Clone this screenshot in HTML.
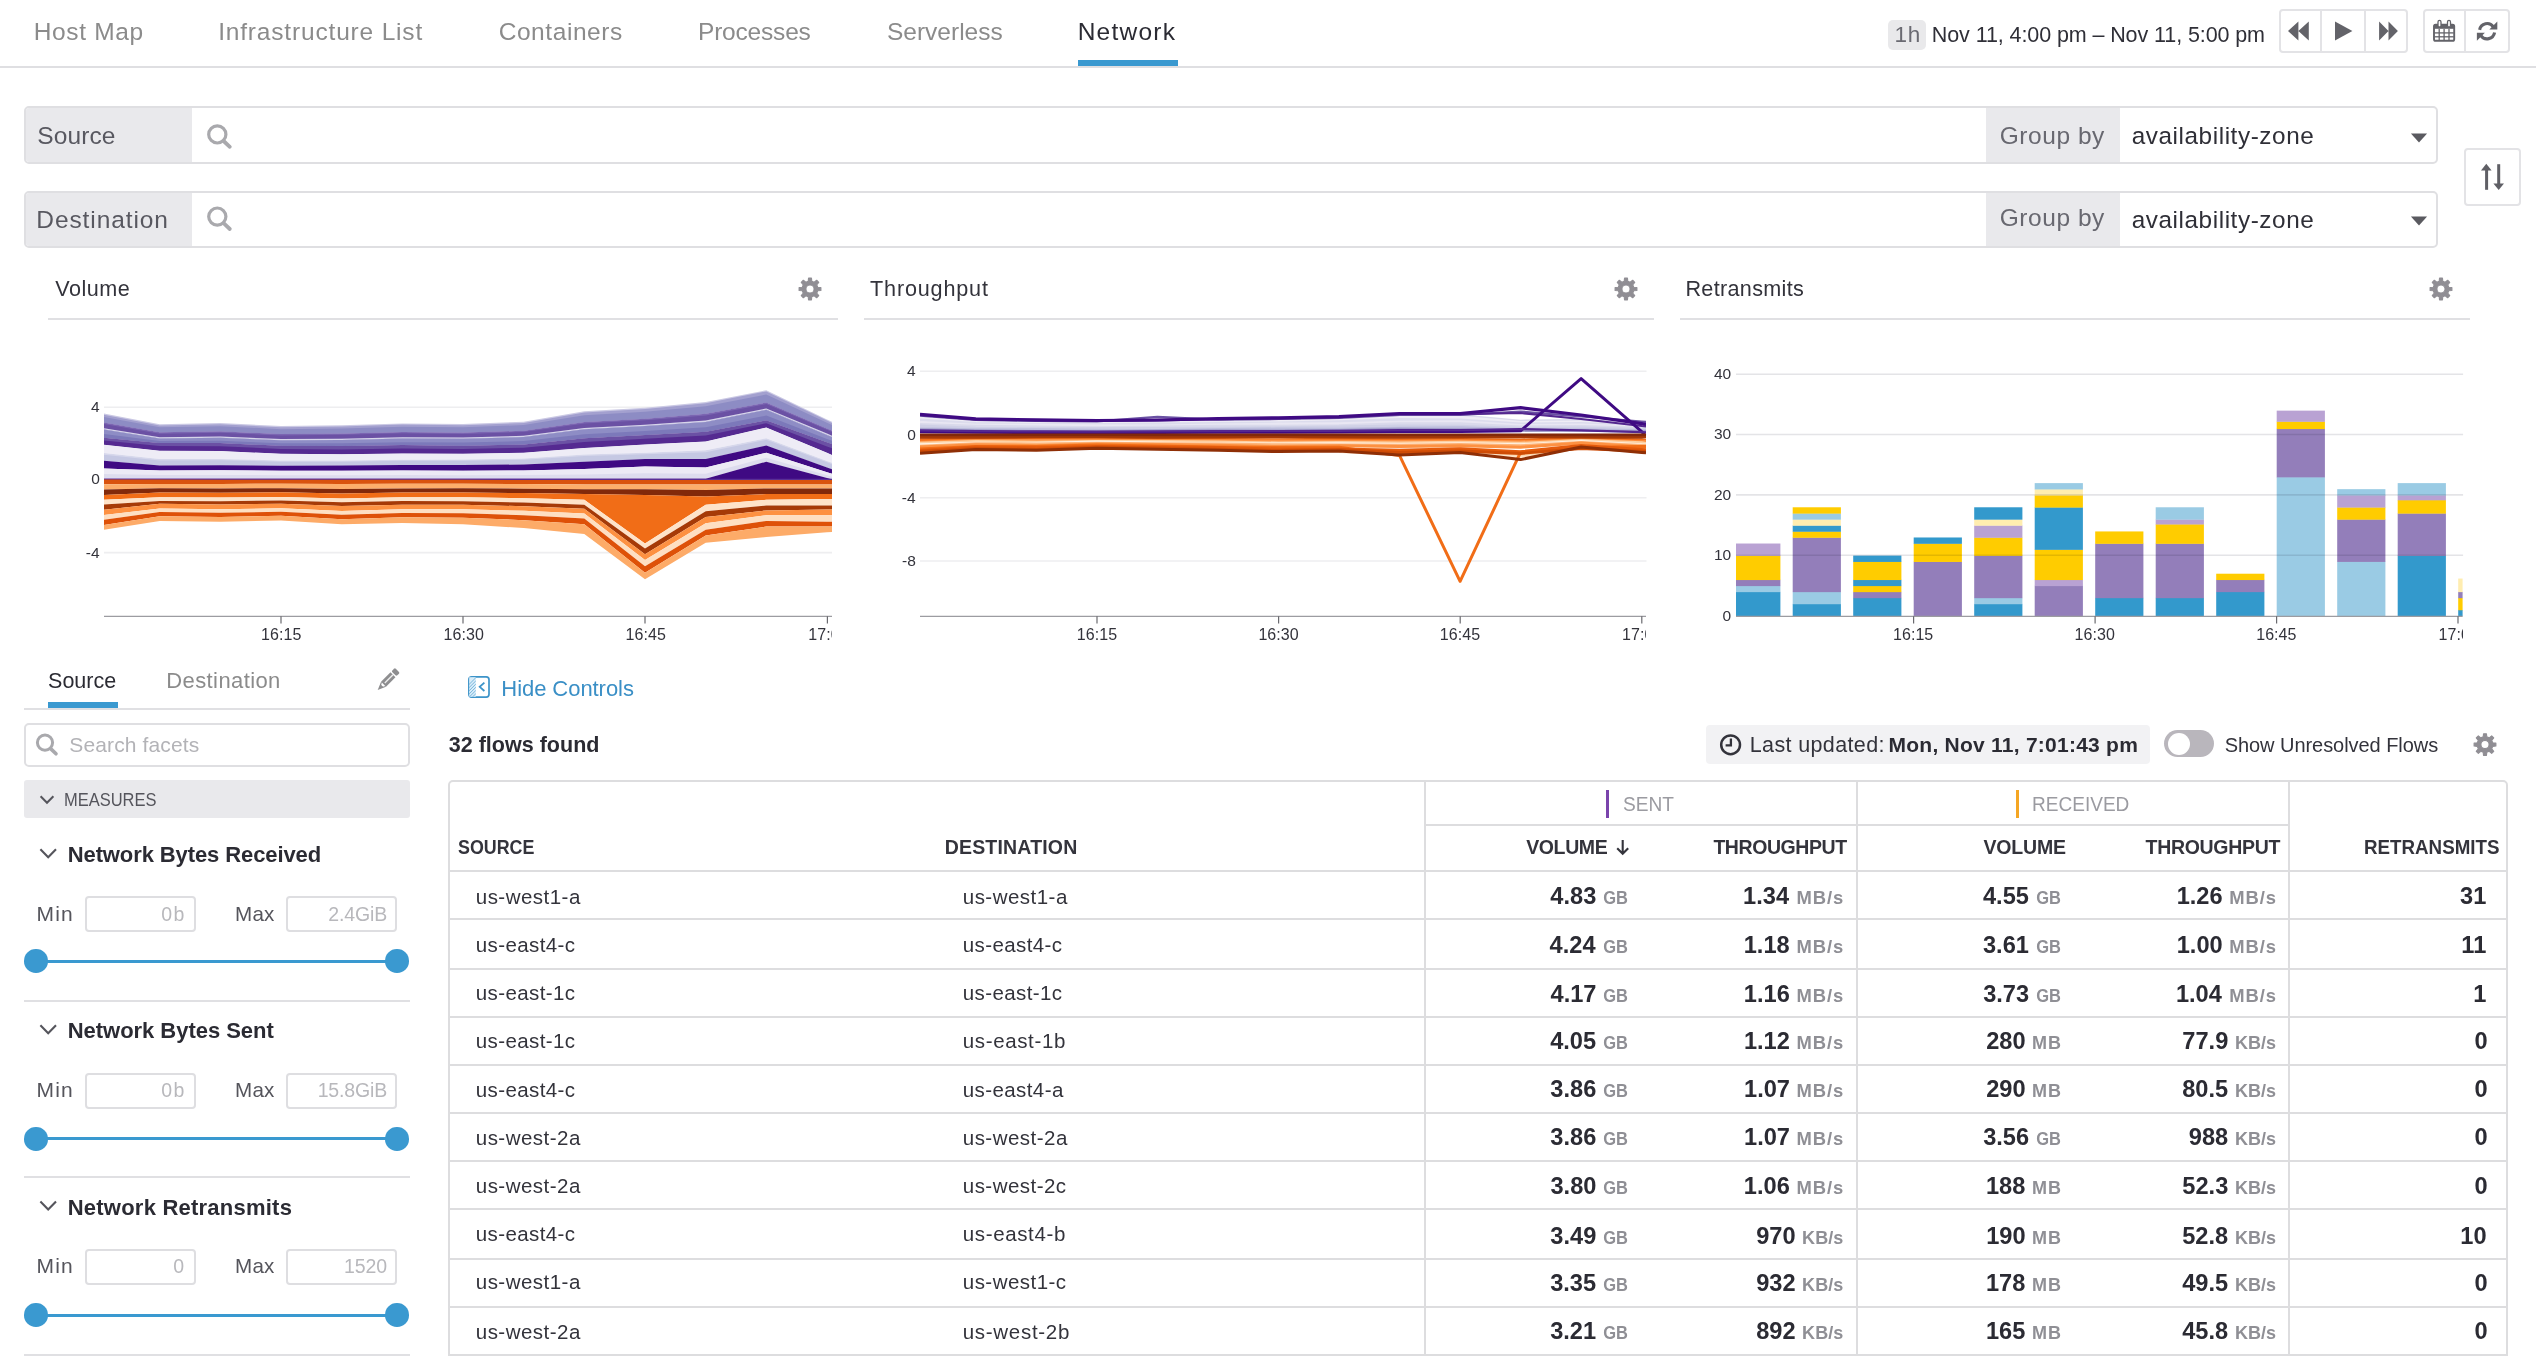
<!DOCTYPE html>
<html lang="en"><head><meta charset="utf-8"><title>Network | Datadog</title><style>
html,body{margin:0;padding:0;background:#fff}
body{width:2536px;height:1356px;position:relative;overflow:hidden;font-family:"Liberation Sans",sans-serif}
#pg{position:absolute;left:0;top:0;width:2536px;height:1356px;overflow:hidden;will-change:transform}
#pg div,#pg svg,#pg span{position:absolute}
#pg svg{overflow:visible}
.t{white-space:pre;line-height:1}
svg text{font-family:"Liberation Sans",sans-serif}
</style></head><body><div id="pg">
<span id="t1" class="t" style="top:20px;font-size:24.5px;color:#8b8b8b;letter-spacing:0.671px;left:33.69px;">Host Map</span>
<span id="t2" class="t" style="top:20px;font-size:24.5px;color:#8b8b8b;letter-spacing:0.826px;left:218.14px;">Infrastructure List</span>
<span id="t3" class="t" style="top:20px;font-size:24.5px;color:#8b8b8b;letter-spacing:0.572px;left:498.66px;">Containers</span>
<span id="t4" class="t" style="top:20px;font-size:24.5px;color:#8b8b8b;letter-spacing:-0.187px;left:697.99px;">Processes</span>
<span id="t5" class="t" style="top:20px;font-size:24.5px;color:#8b8b8b;letter-spacing:0.018px;left:886.89px;">Serverless</span>
<span id="t6" class="t" style="top:20px;font-size:24.5px;color:#2b2b33;letter-spacing:1.236px;left:1077.69px;">Network</span>
<div style="left:0px;top:66px;width:2536px;height:2px;background:#dfdfe2"></div>
<div style="left:1078px;top:60px;width:100px;height:6px;background:#3a99d0"></div>
<div style="left:1888px;top:20px;width:38px;height:30px;background:#e9e9eb;border-radius:5px"></div>
<span id="t7" class="t" style="top:24px;font-size:22.5px;color:#6a6a72;letter-spacing:0.544px;left:1894.59px;">1h</span>
<span id="t8" class="t" style="top:25px;font-size:21.5px;color:#2f2f37;letter-spacing:-0.095px;left:1931.84px;">Nov 11, 4:00 pm – Nov 11, 5:00 pm</span>
<div style="left:2279px;top:8.5px;width:128.5px;height:44.5px;border:2px solid #e3e3e6;border-radius:4px;box-sizing:border-box;background:#fff"></div>
<div style="left:2320px;top:10px;width:2px;height:41.5px;background:#e3e3e6"></div>
<div style="left:2364px;top:10px;width:2px;height:41.5px;background:#e3e3e6"></div>
<div style="left:2423px;top:8.5px;width:86.5px;height:44.5px;border:2px solid #e3e3e6;border-radius:4px;box-sizing:border-box;background:#fff"></div>
<div style="left:2464px;top:10px;width:2px;height:41.5px;background:#e3e3e6"></div>
<svg style="left:2270px;top:0px" width="266" height="66" viewBox="2270 0 266 66" ><path d="M2288 31 L2298.4 21.5 V40.5Z M2298.4 31 L2308.8 21.5 V40.5Z" fill="#636369"/><path d="M2335 21.5 L2352.4 31 L2335 40.5Z" fill="#636369"/><path d="M2379.1 21.5 L2388.5 31 L2379.1 40.5Z M2388.5 21.5 L2397.9 31 L2388.5 40.5Z" fill="#636369"/><rect x="2434" y="24.6" width="20.2" height="16.2" rx="1.6" fill="none" stroke="#636369" stroke-width="1.9"/><rect x="2434" y="24.6" width="20.2" height="4.2" fill="#636369"/><path d="M2439.2 29 V40.6" stroke="#636369" stroke-width="1.3"/><path d="M2444.1 29 V40.6" stroke="#636369" stroke-width="1.3"/><path d="M2449.0 29 V40.6" stroke="#636369" stroke-width="1.3"/><path d="M2434.4 32.9 H2453.8" stroke="#636369" stroke-width="1.3"/><path d="M2434.4 36.8 H2453.8" stroke="#636369" stroke-width="1.3"/><rect x="2438.0" y="20.4" width="3" height="6.6" rx="1.5" fill="#fff" stroke="#636369" stroke-width="1.3"/><rect x="2447.5" y="20.4" width="3" height="6.6" rx="1.5" fill="#fff" stroke="#636369" stroke-width="1.3"/><path d="M2479.62 29.88 A7.6 7.6 0 0 1 2493.33 26.84" fill="none" stroke="#636369" stroke-width="3.1"/><path d="M2494.58 32.52 A7.6 7.6 0 0 1 2480.87 35.56" fill="none" stroke="#636369" stroke-width="3.1"/><path d="M2497.3 21.6 V29.6 H2489.3Z" fill="#636369"/><path d="M2476.9 40.8 V32.8 H2484.9Z" fill="#636369"/></svg>
<div style="left:24px;top:106px;width:2413.5px;height:57.5px;border:2px solid #dfdfe2;border-radius:5px;box-sizing:border-box;background:#fff"></div>
<div style="left:26px;top:108px;width:166px;height:53.5px;background:#e9e9ec;border-radius:3px 0 0 3px"></div>
<div style="left:1986px;top:108px;width:134px;height:53.5px;background:#e9e9ec"></div>
<span id="t9" class="t" style="top:124px;font-size:24.5px;color:#585860;letter-spacing:0.132px;left:37.19px;">Source</span>
<span id="t10" class="t" style="top:124px;font-size:24.5px;color:#686870;letter-spacing:0.543px;left:1999.77px;">Group by</span>
<span id="t11" class="t" style="top:124px;font-size:24.3px;color:#2f2f37;letter-spacing:0.577px;left:2131.67px;">availability-zone</span>
<svg style="left:200px;top:106px" width="50" height="58" viewBox="200 106 50 58" ><circle cx="217.3" cy="134.4" r="8.6" fill="none" stroke="#a9a9ad" stroke-width="3.2"/><path d="M223.6 141.0 L229.8 146.8" stroke="#a9a9ad" stroke-width="3.8" stroke-linecap="round"/></svg>
<svg style="left:2405px;top:106px" width="30" height="58" viewBox="2405 106 30 58" ><path d="M2410.9 133.4 h16.2 l-8.1 9.2z" fill="#5a5a60"/></svg>
<div style="left:24px;top:190.5px;width:2413.5px;height:57.5px;border:2px solid #dfdfe2;border-radius:5px;box-sizing:border-box;background:#fff"></div>
<div style="left:26px;top:192.5px;width:166px;height:53.5px;background:#e9e9ec;border-radius:3px 0 0 3px"></div>
<div style="left:1986px;top:192.5px;width:134px;height:53.5px;background:#e9e9ec"></div>
<span id="t12" class="t" style="top:208px;font-size:24.5px;color:#585860;letter-spacing:0.912px;left:36.29px;">Destination</span>
<span id="t13" class="t" style="top:206px;font-size:24.5px;color:#686870;letter-spacing:0.543px;left:1999.77px;">Group by</span>
<span id="t14" class="t" style="top:208px;font-size:24.3px;color:#2f2f37;letter-spacing:0.577px;left:2131.67px;">availability-zone</span>
<svg style="left:200px;top:190px" width="50" height="58" viewBox="200 190 50 58" ><circle cx="217.3" cy="216.6" r="8.6" fill="none" stroke="#a9a9ad" stroke-width="3.2"/><path d="M223.6 223.2 L229.8 229.0" stroke="#a9a9ad" stroke-width="3.8" stroke-linecap="round"/></svg>
<svg style="left:2405px;top:190px" width="30" height="58" viewBox="2405 190 30 58" ><path d="M2410.9 216.4 h16.2 l-8.1 9.2z" fill="#5a5a60"/></svg>
<div style="left:2464px;top:148px;width:57px;height:57.5px;border:2px solid #e3e3e6;border-radius:4px;box-sizing:border-box;background:#fff"></div>
<svg style="left:2464px;top:148px" width="58" height="58" viewBox="2464 148 58 58" ><g fill="#5f5f65"><rect x="2485.1" y="168.5" width="3" height="21.3"/><path d="M2481.0 170.4 H2491.6 L2486.3 163.8Z"/><rect x="2497.2" y="164.2" width="3" height="21"/><path d="M2493.4 183.5 H2504.0 L2498.7 190.1Z"/></g></svg>
<span id="t15" class="t" style="top:278px;font-size:21.6px;color:#33333b;letter-spacing:0.505px;left:55.21px;">Volume</span>
<div style="left:48px;top:318px;width:790px;height:2px;background:#e0e0e3"></div>
<svg style="left:795px;top:274px" width="30" height="30" viewBox="795 274 30 30" ><path d="M808.21 281.28 L808.54 278.10 L811.46 278.10 L811.79 281.28 L814.19 282.28 L816.67 280.26 L818.74 282.33 L816.72 284.81 L817.72 287.21 L820.90 287.54 L820.90 290.46 L817.72 290.79 L816.72 293.19 L818.74 295.67 L816.67 297.74 L814.19 295.72 L811.79 296.72 L811.46 299.90 L808.54 299.90 L808.21 296.72 L805.81 295.72 L803.33 297.74 L801.26 295.67 L803.28 293.19 L802.28 290.79 L799.10 290.46 L799.10 287.54 L802.28 287.21 L803.28 284.81 L801.26 282.33 L803.33 280.26 L805.81 282.28Z M805.93 289.00 a4.07 4.07 0 1 0 8.14 0 a4.07 4.07 0 1 0 -8.14 0Z" fill="#908e94" fill-rule="evenodd" stroke="#908e94" stroke-width="1.1" stroke-linejoin="round"/></svg>
<span id="t16" class="t" style="top:278px;font-size:21.6px;color:#33333b;letter-spacing:0.821px;left:870.11px;">Throughput</span>
<div style="left:864px;top:318px;width:790px;height:2px;background:#e0e0e3"></div>
<svg style="left:1611px;top:274px" width="30" height="30" viewBox="1611 274 30 30" ><path d="M1624.21 281.28 L1624.54 278.10 L1627.46 278.10 L1627.79 281.28 L1630.19 282.28 L1632.67 280.26 L1634.74 282.33 L1632.72 284.81 L1633.72 287.21 L1636.90 287.54 L1636.90 290.46 L1633.72 290.79 L1632.72 293.19 L1634.74 295.67 L1632.67 297.74 L1630.19 295.72 L1627.79 296.72 L1627.46 299.90 L1624.54 299.90 L1624.21 296.72 L1621.81 295.72 L1619.33 297.74 L1617.26 295.67 L1619.28 293.19 L1618.28 290.79 L1615.10 290.46 L1615.10 287.54 L1618.28 287.21 L1619.28 284.81 L1617.26 282.33 L1619.33 280.26 L1621.81 282.28Z M1621.93 289.00 a4.07 4.07 0 1 0 8.14 0 a4.07 4.07 0 1 0 -8.14 0Z" fill="#908e94" fill-rule="evenodd" stroke="#908e94" stroke-width="1.1" stroke-linejoin="round"/></svg>
<span id="t17" class="t" style="top:278px;font-size:21.6px;color:#33333b;letter-spacing:0.325px;left:1685.43px;">Retransmits</span>
<div style="left:1680px;top:318px;width:790px;height:2px;background:#e0e0e3"></div>
<svg style="left:2426px;top:274px" width="30" height="30" viewBox="2426 274 30 30" ><path d="M2439.21 281.28 L2439.54 278.10 L2442.46 278.10 L2442.79 281.28 L2445.19 282.28 L2447.67 280.26 L2449.74 282.33 L2447.72 284.81 L2448.72 287.21 L2451.90 287.54 L2451.90 290.46 L2448.72 290.79 L2447.72 293.19 L2449.74 295.67 L2447.67 297.74 L2445.19 295.72 L2442.79 296.72 L2442.46 299.90 L2439.54 299.90 L2439.21 296.72 L2436.81 295.72 L2434.33 297.74 L2432.26 295.67 L2434.28 293.19 L2433.28 290.79 L2430.10 290.46 L2430.10 287.54 L2433.28 287.21 L2434.28 284.81 L2432.26 282.33 L2434.33 280.26 L2436.81 282.28Z M2436.93 289.00 a4.07 4.07 0 1 0 8.14 0 a4.07 4.07 0 1 0 -8.14 0Z" fill="#908e94" fill-rule="evenodd" stroke="#908e94" stroke-width="1.1" stroke-linejoin="round"/></svg>
<svg style="left:48px;top:340px" width="800" height="310" viewBox="48 340 800 310" ><defs><clipPath id="cv"><rect x="104" y="340" width="728" height="290"/></clipPath></defs><path d="M104 407.3 H832" stroke="#eeeef0" stroke-width="1.6"/><path d="M104 479.6 H832" stroke="#eeeef0" stroke-width="1.6"/><path d="M104 552.6 H832" stroke="#eeeef0" stroke-width="1.6"/><g clip-path="url(#cv)"><path d="M104.0 413.50L159.7 424.20L220.3 423.00L281.0 426.10L341.7 425.30L402.3 423.40L463.0 424.00L523.7 421.70L584.3 411.30L645.0 407.70L705.7 402.10L766.3 390.20L827.0 419.40L832.0 421.81L832.0 430.53L827.0 428.40L766.3 402.50L705.7 413.80L645.0 418.70L584.3 421.90L523.7 430.69L463.0 432.54L402.3 431.88L341.7 433.40L281.0 434.05L220.3 431.30L159.7 432.30L104.0 422.60Z" fill="#cbc9e4"/><path d="M104.0 414.70L159.7 425.40L220.3 424.20L281.0 427.30L341.7 426.50L402.3 424.60L463.0 425.20L523.7 422.90L584.3 412.50L645.0 408.90L705.7 403.30L766.3 391.40L827.0 420.60L832.0 423.01L832.0 430.53L827.0 428.40L766.3 402.50L705.7 413.80L645.0 418.70L584.3 421.90L523.7 430.69L463.0 432.54L402.3 431.88L341.7 433.40L281.0 434.05L220.3 431.30L159.7 432.30L104.0 422.60Z" fill="#a3a0cf"/><path d="M104.0 416.91L159.7 427.33L220.3 426.19L281.0 429.19L341.7 428.43L402.3 426.64L463.0 427.25L523.7 425.08L584.3 415.13L645.0 411.64L705.7 406.24L766.3 394.51L827.0 422.78L832.0 425.11L832.0 430.53L827.0 428.40L766.3 402.50L705.7 413.80L645.0 418.70L584.3 421.90L523.7 430.69L463.0 432.54L402.3 431.88L341.7 433.40L281.0 434.05L220.3 431.30L159.7 432.30L104.0 422.60Z" fill="#8d8cc4"/><path d="M104.0 422.60L159.7 432.30L220.3 431.30L281.0 434.05L341.7 433.40L402.3 431.88L463.0 432.54L523.7 430.69L584.3 421.90L645.0 418.70L705.7 413.80L766.3 402.50L827.0 428.40L832.0 430.53L832.0 436.97L827.0 434.90L766.3 409.80L705.7 421.90L645.0 426.00L584.3 429.20L523.7 437.07L463.0 438.87L402.3 438.51L341.7 440.00L281.0 440.37L220.3 437.83L159.7 438.50L104.0 429.50Z" fill="#7b66b2"/><path d="M104.0 424.12L159.7 433.66L220.3 432.74L281.0 435.44L341.7 434.85L402.3 433.34L463.0 433.93L523.7 432.09L584.3 423.51L645.0 420.31L705.7 415.58L766.3 404.11L827.0 429.83L832.0 431.95L832.0 435.67L827.0 433.60L766.3 408.50L705.7 420.60L645.0 424.70L584.3 427.90L523.7 435.77L463.0 437.57L402.3 437.21L341.7 438.70L281.0 439.07L220.3 436.53L159.7 437.20L104.0 428.20Z" fill="#6b51a4"/><path d="M104.0 428.20L159.7 437.20L220.3 436.53L281.0 439.07L341.7 438.70L402.3 437.21L463.0 437.57L523.7 435.77L584.3 427.90L645.0 424.70L705.7 420.60L766.3 408.50L827.0 433.60L832.0 435.67L832.0 436.97L827.0 434.90L766.3 409.80L705.7 421.90L645.0 426.00L584.3 429.20L523.7 437.07L463.0 438.87L402.3 438.51L341.7 440.00L281.0 440.37L220.3 437.83L159.7 438.50L104.0 429.50Z" fill="#d6d5ea"/><path d="M104.0 429.50L159.7 438.50L220.3 437.83L281.0 440.37L341.7 440.00L402.3 438.51L463.0 438.87L523.7 437.07L584.3 429.20L645.0 426.00L705.7 421.90L766.3 409.80L827.0 434.90L832.0 436.97L832.0 444.00L827.0 442.20L766.3 420.30L705.7 431.70L645.0 434.90L584.3 438.20L523.7 444.39L463.0 445.63L402.3 445.09L341.7 446.10L281.0 445.82L220.3 443.02L159.7 443.00L104.0 437.70Z" fill="#8e8dc5"/><path d="M104.0 434.01L159.7 440.98L220.3 440.68L281.0 443.37L341.7 443.36L402.3 442.13L463.0 442.59L523.7 441.09L584.3 434.15L645.0 430.89L705.7 427.29L766.3 415.57L827.0 438.91L832.0 440.84L832.0 444.00L827.0 442.20L766.3 420.30L705.7 431.70L645.0 434.90L584.3 438.20L523.7 444.39L463.0 445.63L402.3 445.09L341.7 446.10L281.0 445.82L220.3 443.02L159.7 443.00L104.0 437.70Z" fill="#7c79ba"/><path d="M104.0 437.70L159.7 443.00L220.3 443.02L281.0 445.82L341.7 446.10L402.3 445.09L463.0 445.63L523.7 444.39L584.3 438.20L645.0 434.90L705.7 431.70L766.3 420.30L827.0 442.20L832.0 444.00L832.0 454.88L827.0 452.80L766.3 427.60L705.7 441.40L645.0 444.60L584.3 447.90L523.7 452.71L463.0 453.76L402.3 453.44L341.7 454.30L281.0 453.68L220.3 451.12L159.7 450.70L104.0 444.80Z" fill="#6b51a4"/><path d="M104.0 440.54L159.7 446.08L220.3 446.26L281.0 448.97L341.7 449.38L402.3 448.43L463.0 448.88L523.7 447.72L584.3 442.08L645.0 438.78L705.7 435.58L766.3 423.22L827.0 446.44L832.0 448.35L832.0 454.88L827.0 452.80L766.3 427.60L705.7 441.40L645.0 444.60L584.3 447.90L523.7 452.71L463.0 453.76L402.3 453.44L341.7 454.30L281.0 453.68L220.3 451.12L159.7 450.70L104.0 444.80Z" fill="#552a91"/><path d="M104.0 444.80L159.7 450.70L220.3 451.12L281.0 453.68L341.7 454.30L402.3 453.44L463.0 453.76L523.7 452.71L584.3 447.90L645.0 444.60L705.7 441.40L766.3 427.60L827.0 452.80L832.0 454.88L832.0 462.77L827.0 460.90L766.3 438.20L705.7 450.30L645.0 452.80L584.3 454.40L523.7 458.51L463.0 459.61L402.3 459.67L341.7 460.60L281.0 460.49L220.3 458.97L159.7 459.00L104.0 453.00Z" fill="#eeecf6"/><path d="M104.0 453.00L159.7 459.00L220.3 458.97L281.0 460.49L341.7 460.60L402.3 459.67L463.0 459.61L523.7 458.51L584.3 454.40L645.0 452.80L705.7 450.30L766.3 438.20L827.0 460.90L832.0 462.77L832.0 469.20L827.0 467.40L766.3 445.50L705.7 458.90L645.0 458.90L584.3 461.70L523.7 464.46L463.0 465.12L402.3 465.05L341.7 465.60L281.0 465.86L220.3 465.14L159.7 465.50L104.0 460.70Z" fill="#d6d7eb"/><path d="M104.0 454.69L159.7 460.43L220.3 460.33L281.0 461.67L341.7 461.70L402.3 460.85L463.0 460.82L523.7 459.82L584.3 456.01L645.0 454.14L705.7 452.19L766.3 439.81L827.0 462.33L832.0 464.19L832.0 469.20L827.0 467.40L766.3 445.50L705.7 458.90L645.0 458.90L584.3 461.70L523.7 464.46L463.0 465.12L402.3 465.05L341.7 465.60L281.0 465.86L220.3 465.14L159.7 465.50L104.0 460.70Z" fill="#c5c8e3"/><path d="M104.0 460.70L159.7 465.50L220.3 465.14L281.0 465.86L341.7 465.60L402.3 465.05L463.0 465.12L523.7 464.46L584.3 461.70L645.0 458.90L705.7 458.90L766.3 445.50L827.0 467.40L832.0 469.20L832.0 473.80L827.0 472.20L766.3 452.80L705.7 467.40L645.0 466.60L584.3 469.00L523.7 470.44L463.0 470.69L402.3 470.50L341.7 470.70L281.0 470.81L220.3 470.32L159.7 470.50L104.0 468.40Z" fill="#3f0a83"/><path d="M104.0 468.40L159.7 470.50L220.3 470.32L281.0 470.81L341.7 470.70L402.3 470.50L463.0 470.69L523.7 470.44L584.3 469.00L645.0 466.60L705.7 467.40L766.3 452.80L827.0 472.20L832.0 473.80L832.0 479.24L827.0 477.90L766.3 461.70L705.7 478.80L645.0 478.80L584.3 478.80L523.7 478.80L463.0 478.80L402.3 478.80L341.7 478.80L281.0 478.80L220.3 478.80L159.7 478.80L104.0 478.80Z" fill="#eceaf5"/><path d="M104.0 474.12L159.7 475.06L220.3 474.99L281.0 475.21L341.7 475.15L402.3 475.07L463.0 475.15L523.7 475.04L584.3 474.39L645.0 473.31L705.7 473.67L766.3 457.69L827.0 475.33L832.0 476.79L832.0 479.24L827.0 477.90L766.3 461.70L705.7 478.80L645.0 478.80L584.3 478.80L523.7 478.80L463.0 478.80L402.3 478.80L341.7 478.80L281.0 478.80L220.3 478.80L159.7 478.80L104.0 478.80Z" fill="#dddcee"/><path d="M104.0 478.80L159.7 478.80L220.3 478.80L281.0 478.80L341.7 478.80L402.3 478.80L463.0 478.80L523.7 478.80L584.3 478.80L645.0 478.80L705.7 478.80L766.3 461.70L827.0 477.90L832.0 479.24L832.0 479.90L827.0 479.90L766.3 479.90L705.7 479.90L645.0 479.90L584.3 479.90L523.7 479.90L463.0 479.90L402.3 479.90L341.7 479.90L281.0 479.90L220.3 479.90L159.7 479.90L104.0 479.90Z" fill="#3f0a83"/><path d="M104.0 478.70L159.7 478.70L220.3 478.70L281.0 478.70L341.7 478.70L402.3 478.70L463.0 478.70L523.7 478.70L584.3 478.70L645.0 478.70L705.7 478.70L766.3 478.70L827.0 478.70L832.0 478.70L832.0 479.90L827.0 479.90L766.3 479.90L705.7 479.90L645.0 479.90L584.3 479.90L523.7 479.90L463.0 479.90L402.3 479.90L341.7 479.90L281.0 479.90L220.3 479.90L159.7 479.90L104.0 479.90Z" fill="#5a2f96"/><path d="M104.0 479.60L159.7 479.60L220.3 479.63L281.0 479.67L341.7 479.70L402.3 479.77L463.0 479.85L523.7 479.93L584.3 480.00L645.0 480.00L705.7 480.00L766.3 480.00L827.0 480.00L832.0 480.00L832.0 484.40L827.0 484.40L766.3 484.40L705.7 484.40L645.0 484.40L584.3 484.40L523.7 484.00L463.0 483.76L402.3 483.71L341.7 483.90L281.0 483.68L220.3 483.95L159.7 484.00L104.0 484.30Z" fill="#d9530e"/><path d="M104.0 484.30L159.7 484.00L220.3 483.95L281.0 483.68L341.7 483.90L402.3 483.71L463.0 483.76L523.7 484.00L584.3 484.40L645.0 484.40L705.7 484.40L766.3 484.40L827.0 484.40L832.0 484.40L832.0 488.50L827.0 488.50L766.3 488.50L705.7 490.10L645.0 489.30L584.3 489.30L523.7 488.65L463.0 488.32L402.3 488.40L341.7 489.00L281.0 488.18L220.3 488.42L159.7 488.20L104.0 489.60Z" fill="#fdae6b"/><path d="M104.0 489.60L159.7 488.20L220.3 488.42L281.0 488.18L341.7 489.00L402.3 488.40L463.0 488.32L523.7 488.65L584.3 489.30L645.0 489.30L705.7 490.10L766.3 488.50L827.0 488.50L832.0 488.50L832.0 494.10L827.0 494.10L766.3 494.10L705.7 496.60L645.0 494.90L584.3 494.10L523.7 493.05L463.0 492.49L402.3 492.56L341.7 493.40L281.0 492.31L220.3 492.80L159.7 492.60L104.0 495.00Z" fill="#82290a"/><path d="M104.0 495.00L159.7 492.60L220.3 492.80L281.0 492.31L341.7 493.40L402.3 492.56L463.0 492.49L523.7 493.05L584.3 494.10L645.0 494.90L705.7 496.60L766.3 494.10L827.0 494.10L832.0 494.10L832.0 498.93L827.0 499.00L766.3 499.80L705.7 504.70L645.0 543.60L584.3 499.80L523.7 498.21L463.0 497.33L402.3 497.34L341.7 498.40L281.0 496.91L220.3 497.57L159.7 497.30L104.0 499.70Z" fill="#f16d17"/><path d="M104.0 499.70L159.7 497.30L220.3 497.57L281.0 496.91L341.7 498.40L402.3 497.34L463.0 497.33L523.7 498.21L584.3 499.80L645.0 543.60L705.7 504.70L766.3 499.80L827.0 499.00L832.0 498.93L832.0 505.50L827.0 505.50L766.3 505.50L705.7 511.20L645.0 548.50L584.3 504.70L523.7 502.51L463.0 501.25L402.3 501.08L341.7 502.20L281.0 500.42L220.3 501.22L159.7 500.90L104.0 504.40Z" fill="#fee3c9"/><path d="M104.0 504.40L159.7 500.90L220.3 501.22L281.0 500.42L341.7 502.20L402.3 501.08L463.0 501.25L523.7 502.51L584.3 504.70L645.0 548.50L705.7 511.20L766.3 505.50L827.0 505.50L832.0 505.50L832.0 509.53L827.0 509.60L766.3 510.40L705.7 516.90L645.0 554.20L584.3 508.70L523.7 506.21L463.0 504.79L402.3 504.65L341.7 506.00L281.0 503.69L220.3 504.39L159.7 503.80L104.0 509.70Z" fill="#a63a07"/><path d="M104.0 509.70L159.7 503.80L220.3 504.39L281.0 503.69L341.7 506.00L402.3 504.65L463.0 504.79L523.7 506.21L584.3 508.70L645.0 554.20L705.7 516.90L766.3 510.40L827.0 509.60L832.0 509.53L832.0 515.20L827.0 515.20L766.3 515.20L705.7 523.30L645.0 559.90L584.3 513.60L523.7 510.84L463.0 509.30L402.3 509.26L341.7 511.00L281.0 508.30L220.3 509.17L159.7 508.50L104.0 515.00Z" fill="#fd9142"/><path d="M104.0 515.00L159.7 508.50L220.3 509.17L281.0 508.30L341.7 511.00L402.3 509.26L463.0 509.30L523.7 510.84L584.3 513.60L645.0 559.90L705.7 523.30L766.3 515.20L827.0 515.20L832.0 515.20L832.0 521.77L827.0 521.70L766.3 520.90L705.7 529.80L645.0 566.30L584.3 518.50L523.7 515.14L463.0 513.22L402.3 513.01L341.7 514.80L281.0 511.77L220.3 512.75L159.7 512.00L104.0 519.70Z" fill="#fedfc2"/><path d="M104.0 519.70L159.7 512.00L220.3 512.75L281.0 511.77L341.7 514.80L402.3 513.01L463.0 513.22L523.7 515.14L584.3 518.50L645.0 566.30L705.7 529.80L766.3 520.90L827.0 521.70L832.0 521.77L832.0 526.60L827.0 526.60L766.3 526.60L705.7 535.50L645.0 572.80L584.3 524.20L523.7 520.14L463.0 517.76L402.3 517.35L341.7 519.20L281.0 515.84L220.3 516.99L159.7 516.20L104.0 525.00Z" fill="#de5108"/><path d="M104.0 525.00L159.7 516.20L220.3 516.99L281.0 515.84L341.7 519.20L402.3 517.35L463.0 517.76L523.7 520.14L584.3 524.20L645.0 572.80L705.7 535.50L766.3 526.60L827.0 526.60L832.0 526.60L832.0 531.90L827.0 532.30L766.3 537.10L705.7 542.80L645.0 579.30L584.3 533.90L523.7 528.00L463.0 524.30L402.3 523.00L341.7 524.30L281.0 520.50L220.3 521.80L159.7 520.90L104.0 529.80Z" fill="#fdab68"/></g><path d="M104 616.3 H832" stroke="#9c9ca1" stroke-width="1.3"/><path d="M281 616.3 V623.4" stroke="#6a6a6f" stroke-width="1.2"/><path d="M463 616.3 V623.4" stroke="#6a6a6f" stroke-width="1.2"/><path d="M645 616.3 V623.4" stroke="#6a6a6f" stroke-width="1.2"/><path d="M827.4 616.3 V623.4" stroke="#6a6a6f" stroke-width="1.2"/></svg>
<span id="t18" class="t" style="top:399px;font-size:15.5px;color:#33333b;right:2436.35px;">4</span>
<span id="t19" class="t" style="top:471px;font-size:15.5px;color:#33333b;right:2436.19px;">0</span>
<span id="t20" class="t" style="top:545px;font-size:15.5px;color:#33333b;right:2436.35px;">-4</span>
<span id="t21" class="t" style="top:627px;font-size:16px;color:#33333b;letter-spacing:0.061px;left:261.08px;">16:15</span>
<span id="t22" class="t" style="top:627px;font-size:16px;color:#33333b;letter-spacing:0.049px;left:443.58px;">16:30</span>
<span id="t23" class="t" style="top:627px;font-size:16px;color:#33333b;letter-spacing:0.061px;left:625.58px;">16:45</span>
<div style="left:800px;top:624px;width:32px;height:24px;overflow:hidden"><span class="t" style="left:8.3px;top:3px;font-size:16px;color:#33333b;letter-spacing:0.05px">17:00</span></div>
<svg style="left:864px;top:340px" width="800" height="310" viewBox="864 340 800 310" ><defs><clipPath id="ct"><rect x="920" y="340" width="726" height="290"/></clipPath></defs><path d="M920 371.3 H1646.5" stroke="#eeeef0" stroke-width="1.6"/><path d="M920 434.5 H1646.5" stroke="#eeeef0" stroke-width="1.6"/><path d="M920 497.8 H1646.5" stroke="#eeeef0" stroke-width="1.6"/><path d="M920 561.0 H1646.5" stroke="#eeeef0" stroke-width="1.6"/><g clip-path="url(#ct)"><path d="M920.0 416.30L975.8 420.79L1036.4 421.16L1096.9 421.56L1157.4 421.60L1217.9 420.45L1278.5 419.21L1339.0 418.24L1399.5 415.88L1460.1 415.72L1520.6 421.13L1581.1 420.40L1641.7 423.33L1646.0 423.95" fill="none" stroke="#dadaeb" stroke-width="3" stroke-linejoin="round"/><path d="M920.0 418.56L975.8 421.72L1036.4 422.51L1096.9 423.57L1157.4 422.97L1217.9 421.40L1278.5 421.08L1339.0 420.57L1399.5 417.59L1460.1 417.33L1520.6 422.60L1581.1 421.95L1641.7 424.55L1646.0 425.10" fill="none" stroke="#efedf5" stroke-width="3" stroke-linejoin="round"/><path d="M920.0 419.95L975.8 423.53L1036.4 424.50L1096.9 424.54L1157.4 423.97L1217.9 423.49L1278.5 423.03L1339.0 421.73L1399.5 419.53L1460.1 420.04L1520.6 424.06L1581.1 423.49L1641.7 425.77L1646.0 426.25" fill="none" stroke="#dcdced" stroke-width="3" stroke-linejoin="round"/><path d="M920.0 422.50L975.8 425.32L1036.4 425.33L1096.9 425.83L1157.4 426.04L1217.9 424.99L1278.5 424.06L1339.0 423.72L1399.5 422.17L1460.1 421.75L1520.6 425.52L1581.1 425.04L1641.7 426.99L1646.0 427.40" fill="none" stroke="#e9e7f3" stroke-width="3" stroke-linejoin="round"/><path d="M920.0 424.38L975.8 426.25L1036.4 427.06L1096.9 427.75L1157.4 427.05L1217.9 426.13L1278.5 426.23L1339.0 425.77L1399.5 423.65L1460.1 423.69L1520.6 426.99L1581.1 426.58L1641.7 428.20L1646.0 428.55" fill="none" stroke="#dadaeb" stroke-width="3" stroke-linejoin="round"/><path d="M920.0 425.99L975.8 428.35L1036.4 428.75L1096.9 428.51L1157.4 428.40L1217.9 428.34L1278.5 427.80L1339.0 426.91L1399.5 425.97L1460.1 426.33L1520.6 428.45L1581.1 428.12L1641.7 429.42L1646.0 429.70" fill="none" stroke="#cfd0e6" stroke-width="3" stroke-linejoin="round"/><path d="M920.0 428.43L975.8 429.60L1036.4 429.46L1096.9 430.04L1157.4 430.21L1217.9 429.33L1278.5 428.87L1339.0 429.03L1399.5 428.12L1460.1 427.59L1520.6 429.76L1581.1 429.51L1641.7 430.52L1646.0 430.74" fill="none" stroke="#bcbddc" stroke-width="2.6" stroke-linejoin="round"/><path d="M920.0 429.37L975.8 430.30L1036.4 431.03L1096.9 431.24L1157.4 430.59L1217.9 430.35L1278.5 430.66L1339.0 430.17L1399.5 428.96L1460.1 429.30L1520.6 430.79L1581.1 430.59L1641.7 431.37L1646.0 431.54" fill="none" stroke="#9e9ac8" stroke-width="2.2" stroke-linejoin="round"/><path d="M920.0 415.70L975.8 419.98L1036.4 420.81L1096.9 421.47L1157.4 416.80L1217.9 419.70L1278.5 418.95L1339.0 417.93L1399.5 414.96L1460.1 414.96L1520.6 411.50L1581.1 416.50L1641.7 421.50L1646.0 421.80" fill="none" stroke="#6a51a3" stroke-width="2.2" stroke-linejoin="round"/><path d="M920.0 414.90L975.8 419.36L1036.4 420.24L1096.9 420.91L1157.4 420.43L1217.9 419.07L1278.5 418.30L1339.0 417.23L1399.5 414.12L1460.1 414.12L1520.6 413.00L1581.1 419.00L1641.7 426.00L1646.0 426.30" fill="none" stroke="#54278f" stroke-width="2.2" stroke-linejoin="round"/><path d="M920.0 431.70L975.8 432.30L1036.4 432.42L1096.9 432.51L1157.4 432.44L1217.9 432.26L1278.5 432.16L1339.0 432.01L1399.5 431.60L1460.1 431.60L1520.6 430.80L1581.1 378.60L1641.7 431.70L1646.0 436.00" fill="none" stroke="#3f0a83" stroke-width="3.0" stroke-linejoin="round"/><path d="M920.0 430.30L975.8 431.22L1036.4 431.40L1096.9 431.54L1157.4 431.44L1217.9 431.16L1278.5 431.00L1339.0 430.78L1399.5 430.14L1460.1 430.14L1520.6 428.98L1581.1 430.44L1641.7 432.18L1646.0 432.30" fill="none" stroke="#54278f" stroke-width="2.2" stroke-linejoin="round"/><path d="M920.0 414.30L975.8 418.90L1036.4 419.80L1096.9 420.50L1157.4 420.00L1217.9 418.60L1278.5 417.80L1339.0 416.70L1399.5 413.50L1460.1 413.50L1520.6 407.70L1581.1 415.00L1641.7 423.70L1646.0 424.30" fill="none" stroke="#3f0a83" stroke-width="3.2" stroke-linejoin="round"/><path d="M920.0 439.84L975.8 439.32L1036.4 439.54L1096.9 438.57L1157.4 438.91L1217.9 439.60L1278.5 439.77L1339.0 439.26L1399.5 439.81L1460.1 439.45L1520.6 440.01L1581.1 438.21L1641.7 440.03L1646.0 440.24" fill="none" stroke="#f16d17" stroke-width="3" stroke-linejoin="round"/><path d="M920.0 442.16L975.8 440.60L1036.4 440.49L1096.9 440.09L1157.4 440.73L1217.9 440.70L1278.5 441.02L1339.0 441.28L1399.5 441.47L1460.1 440.98L1520.6 441.75L1581.1 439.91L1641.7 441.69L1646.0 441.44" fill="none" stroke="#fd9142" stroke-width="3" stroke-linejoin="round"/><path d="M920.0 443.35L975.8 441.54L1036.4 442.30L1096.9 441.43L1157.4 441.43L1217.9 441.96L1278.5 443.02L1339.0 442.60L1399.5 442.96L1460.1 442.34L1520.6 443.31L1581.1 440.60L1641.7 442.83L1646.0 443.43" fill="none" stroke="#fdd0a2" stroke-width="3" stroke-linejoin="round"/><path d="M920.0 444.57L975.8 443.06L1036.4 443.20L1096.9 441.80L1157.4 442.64L1217.9 443.44L1278.5 443.78L1339.0 443.34L1399.5 444.12L1460.1 443.41L1520.6 444.52L1581.1 441.31L1641.7 444.56L1646.0 444.60" fill="none" stroke="#fff1e3" stroke-width="2.4" stroke-linejoin="round"/><path d="M920.0 446.23L975.8 443.64L1036.4 443.92L1096.9 443.18L1157.4 443.79L1217.9 443.93L1278.5 444.85L1339.0 444.98L1399.5 445.28L1460.1 444.47L1520.6 445.74L1581.1 442.58L1641.7 445.39L1646.0 445.43" fill="none" stroke="#fdb57a" stroke-width="3" stroke-linejoin="round"/><path d="M920.0 447.11L975.8 444.75L1036.4 445.64L1096.9 444.06L1157.4 444.38L1217.9 445.37L1278.5 446.58L1339.0 445.85L1399.5 446.61L1460.1 445.69L1520.6 447.13L1581.1 442.98L1641.7 446.66L1646.0 447.36" fill="none" stroke="#fd9142" stroke-width="3" stroke-linejoin="round"/><path d="M1339.0 451.50L1399.5 454.60L1460.1 451.40L1520.6 457.20L1581.1 447.50" fill="none" stroke="#fee3c9" stroke-width="3.0" stroke-linejoin="round"/><path d="M1339.0 450.50L1399.5 453.00L1460.1 450.20L1520.6 454.80L1581.1 447.00" fill="none" stroke="#fdd0a2" stroke-width="2.6" stroke-linejoin="round"/><path d="M920.0 449.00L975.8 446.43L1036.4 446.55L1096.9 444.90L1157.4 446.10L1217.9 446.88L1278.5 447.49L1339.0 447.21L1399.5 455.40L1460.1 581.30L1520.6 452.20L1581.1 447.50L1641.7 446.50L1646.0 446.50" fill="none" stroke="#f16d17" stroke-width="3.0" stroke-linejoin="round"/><path d="M920.0 450.56L975.8 447.00L1036.4 447.73L1096.9 446.46L1157.4 447.06L1217.9 447.55L1278.5 449.05L1339.0 448.90L1399.5 450.24L1460.1 448.70L1520.6 451.70L1581.1 445.38L1641.7 449.47L1646.0 449.87" fill="none" stroke="#e35a0b" stroke-width="3" stroke-linejoin="round"/><path d="M920.0 451.48L975.8 448.43L1036.4 449.31L1096.9 447.06L1157.4 447.85L1217.9 449.22L1278.5 450.51L1339.0 449.61L1399.5 452.50L1460.1 451.00L1520.6 453.50L1581.1 448.50L1641.7 451.06L1646.0 451.71" fill="none" stroke="#cf4c06" stroke-width="2.8" stroke-linejoin="round"/><path d="M920.0 453.20L975.8 449.50L1036.4 450.20L1096.9 448.20L1157.4 449.20L1217.9 450.20L1278.5 451.60L1339.0 451.10L1399.5 455.00L1460.1 452.40L1520.6 459.60L1581.1 447.00L1641.7 452.40L1646.0 452.80" fill="none" stroke="#8f2f06" stroke-width="3.0" stroke-linejoin="round"/><path d="M920.0 437.04L975.8 437.08L1036.4 436.71L1096.9 436.77L1157.4 437.13L1217.9 436.98L1278.5 436.65L1339.0 436.89L1399.5 437.15L1460.1 436.85L1520.6 436.66L1581.1 437.01L1641.7 437.11L1646.0 436.73" fill="none" stroke="#a63a07" stroke-width="3.2" stroke-linejoin="round"/><path d="M920.0 434.90L975.8 434.90L1036.4 434.90L1096.9 434.90L1157.4 434.90L1217.9 434.90L1278.5 434.90L1339.0 434.90L1399.5 434.90L1460.1 434.90L1520.6 434.90L1581.1 434.90L1641.7 434.90L1646.0 434.90" fill="none" stroke="#82290a" stroke-width="2.6" stroke-linejoin="round"/></g><path d="M920 616.3 H1646" stroke="#9c9ca1" stroke-width="1.3"/><path d="M1097 616.3 V623.4" stroke="#6a6a6f" stroke-width="1.2"/><path d="M1278.6 616.3 V623.4" stroke="#6a6a6f" stroke-width="1.2"/><path d="M1460.2 616.3 V623.4" stroke="#6a6a6f" stroke-width="1.2"/><path d="M1641.8 616.3 V623.4" stroke="#6a6a6f" stroke-width="1.2"/></svg>
<span id="t24" class="t" style="top:363px;font-size:15.5px;color:#33333b;right:1620.35px;">4</span>
<span id="t25" class="t" style="top:427px;font-size:15.5px;color:#33333b;right:1620.19px;">0</span>
<span id="t26" class="t" style="top:490px;font-size:15.5px;color:#33333b;right:1620.35px;">-4</span>
<span id="t27" class="t" style="top:553px;font-size:15.5px;color:#33333b;right:1620.13px;">-8</span>
<span id="t28" class="t" style="top:627px;font-size:16px;color:#33333b;letter-spacing:0.061px;left:1076.78px;">16:15</span>
<span id="t29" class="t" style="top:627px;font-size:16px;color:#33333b;letter-spacing:0.049px;left:1258.38px;">16:30</span>
<span id="t30" class="t" style="top:627px;font-size:16px;color:#33333b;letter-spacing:0.061px;left:1439.78px;">16:45</span>
<div style="left:1610px;top:624px;width:36px;height:24px;overflow:hidden"><span class="t" style="left:12.1px;top:3px;font-size:16px;color:#33333b;letter-spacing:0.05px">17:00</span></div>
<svg style="left:1680px;top:340px" width="800" height="310" viewBox="1680 340 800 310" ><defs><clipPath id="cr"><rect x="1736" y="340" width="726.5999999999999" height="276.6"/></clipPath></defs><g clip-path="url(#cr)"><rect x="1732.2" y="591.84" width="48.2" height="24.46" fill="#3399cc"/><rect x="1732.2" y="585.80" width="48.2" height="6.34" fill="#9acbe4"/><rect x="1732.2" y="579.76" width="48.2" height="6.34" fill="#937eba"/><rect x="1732.2" y="555.60" width="48.2" height="24.46" fill="#ffcc00"/><rect x="1732.2" y="543.52" width="48.2" height="12.38" fill="#b9a2d3"/><rect x="1792.7" y="603.92" width="48.2" height="12.38" fill="#3399cc"/><rect x="1792.7" y="591.84" width="48.2" height="12.38" fill="#9acbe4"/><rect x="1792.7" y="537.48" width="48.2" height="54.66" fill="#937eba"/><rect x="1792.7" y="531.44" width="48.2" height="6.34" fill="#ffcc00"/><rect x="1792.7" y="525.40" width="48.2" height="6.34" fill="#3399cc"/><rect x="1792.7" y="519.36" width="48.2" height="6.34" fill="#ffedb0"/><rect x="1792.7" y="513.32" width="48.2" height="6.34" fill="#9acbe4"/><rect x="1792.7" y="507.28" width="48.2" height="6.34" fill="#ffcc00"/><rect x="1853.2" y="597.88" width="48.2" height="18.42" fill="#3399cc"/><rect x="1853.2" y="591.84" width="48.2" height="6.34" fill="#937eba"/><rect x="1853.2" y="585.80" width="48.2" height="6.34" fill="#ffcc00"/><rect x="1853.2" y="579.76" width="48.2" height="6.34" fill="#3399cc"/><rect x="1853.2" y="561.64" width="48.2" height="18.42" fill="#ffcc00"/><rect x="1853.2" y="555.60" width="48.2" height="6.34" fill="#3399cc"/><rect x="1913.7" y="561.64" width="48.2" height="54.66" fill="#937eba"/><rect x="1913.7" y="543.52" width="48.2" height="18.42" fill="#ffcc00"/><rect x="1913.7" y="537.48" width="48.2" height="6.34" fill="#3399cc"/><rect x="1974.2" y="603.92" width="48.2" height="12.38" fill="#3399cc"/><rect x="1974.2" y="597.88" width="48.2" height="6.34" fill="#9acbe4"/><rect x="1974.2" y="555.60" width="48.2" height="42.58" fill="#937eba"/><rect x="1974.2" y="537.48" width="48.2" height="18.42" fill="#ffcc00"/><rect x="1974.2" y="525.40" width="48.2" height="12.38" fill="#b9a2d3"/><rect x="1974.2" y="519.36" width="48.2" height="6.34" fill="#ffedb0"/><rect x="1974.2" y="507.28" width="48.2" height="12.38" fill="#3399cc"/><rect x="2034.7" y="585.80" width="48.2" height="30.50" fill="#937eba"/><rect x="2034.7" y="579.76" width="48.2" height="6.34" fill="#b9a2d3"/><rect x="2034.7" y="549.56" width="48.2" height="30.50" fill="#ffcc00"/><rect x="2034.7" y="507.28" width="48.2" height="42.58" fill="#3399cc"/><rect x="2034.7" y="495.20" width="48.2" height="12.38" fill="#ffcc00"/><rect x="2034.7" y="489.16" width="48.2" height="6.34" fill="#ffedb0"/><rect x="2034.7" y="483.12" width="48.2" height="6.34" fill="#9acbe4"/><rect x="2095.2" y="597.88" width="48.2" height="18.42" fill="#3399cc"/><rect x="2095.2" y="543.52" width="48.2" height="54.66" fill="#937eba"/><rect x="2095.2" y="531.44" width="48.2" height="12.38" fill="#ffcc00"/><rect x="2155.7" y="597.88" width="48.2" height="18.42" fill="#3399cc"/><rect x="2155.7" y="543.52" width="48.2" height="54.66" fill="#937eba"/><rect x="2155.7" y="524.19" width="48.2" height="19.63" fill="#ffcc00"/><rect x="2155.7" y="519.36" width="48.2" height="5.13" fill="#b9a2d3"/><rect x="2155.7" y="507.28" width="48.2" height="12.38" fill="#9acbe4"/><rect x="2216.2" y="591.84" width="48.2" height="24.46" fill="#3399cc"/><rect x="2216.2" y="579.76" width="48.2" height="12.38" fill="#937eba"/><rect x="2216.2" y="573.72" width="48.2" height="6.34" fill="#ffcc00"/><rect x="2276.7" y="477.08" width="48.2" height="139.22" fill="#9acbe4"/><rect x="2276.7" y="428.76" width="48.2" height="48.62" fill="#937eba"/><rect x="2276.7" y="421.51" width="48.2" height="7.55" fill="#ffcc00"/><rect x="2276.7" y="410.64" width="48.2" height="11.17" fill="#b9a2d3"/><rect x="2337.2" y="561.64" width="48.2" height="54.66" fill="#9acbe4"/><rect x="2337.2" y="519.36" width="48.2" height="42.58" fill="#937eba"/><rect x="2337.2" y="507.28" width="48.2" height="12.38" fill="#ffcc00"/><rect x="2337.2" y="495.20" width="48.2" height="12.38" fill="#b9a2d3"/><rect x="2337.2" y="489.16" width="48.2" height="6.34" fill="#9acbe4"/><rect x="2397.7" y="555.60" width="48.2" height="60.70" fill="#3399cc"/><rect x="2397.7" y="513.32" width="48.2" height="42.58" fill="#937eba"/><rect x="2397.7" y="500.03" width="48.2" height="13.59" fill="#ffcc00"/><rect x="2397.7" y="495.20" width="48.2" height="5.13" fill="#b9a2d3"/><rect x="2397.7" y="483.12" width="48.2" height="12.38" fill="#9acbe4"/><rect x="2458.2" y="609.96" width="48.2" height="6.34" fill="#3399cc"/><rect x="2458.2" y="597.88" width="48.2" height="12.38" fill="#ffcc00"/><rect x="2458.2" y="591.84" width="48.2" height="6.34" fill="#937eba"/><rect x="2458.2" y="578.55" width="48.2" height="13.59" fill="#ffedb0"/></g><path d="M1736 374.2 H2463.1" stroke="#e4e4e7" stroke-width="1.6" style="mix-blend-mode:multiply"/><path d="M1736 434.5 H2463.1" stroke="#e4e4e7" stroke-width="1.6" style="mix-blend-mode:multiply"/><path d="M1736 494.9 H2463.1" stroke="#e4e4e7" stroke-width="1.6" style="mix-blend-mode:multiply"/><path d="M1736 555.3 H2463.1" stroke="#e4e4e7" stroke-width="1.6" style="mix-blend-mode:multiply"/><path d="M1736 616.3 H2462.6" stroke="#9c9ca1" stroke-width="1.3"/><path d="M1913.6 616.3 V623.4" stroke="#6a6a6f" stroke-width="1.2"/><path d="M2095.1 616.3 V623.4" stroke="#6a6a6f" stroke-width="1.2"/><path d="M2276.6 616.3 V623.4" stroke="#6a6a6f" stroke-width="1.2"/><path d="M2458.0 616.3 V623.4" stroke="#6a6a6f" stroke-width="1.2"/></svg>
<span id="t31" class="t" style="top:366px;font-size:15.5px;color:#33333b;right:804.89px;">40</span>
<span id="t32" class="t" style="top:426px;font-size:15.5px;color:#33333b;right:804.89px;">30</span>
<span id="t33" class="t" style="top:487px;font-size:15.5px;color:#33333b;right:804.89px;">20</span>
<span id="t34" class="t" style="top:547px;font-size:15.5px;color:#33333b;right:804.89px;">10</span>
<span id="t35" class="t" style="top:608px;font-size:15.5px;color:#33333b;right:804.89px;">0</span>
<span id="t36" class="t" style="top:627px;font-size:16px;color:#33333b;letter-spacing:0.061px;left:1892.98px;">16:15</span>
<span id="t37" class="t" style="top:627px;font-size:16px;color:#33333b;letter-spacing:0.049px;left:2074.58px;">16:30</span>
<span id="t38" class="t" style="top:627px;font-size:16px;color:#33333b;letter-spacing:0.061px;left:2256.18px;">16:45</span>
<div style="left:2426px;top:624px;width:36.6px;height:24px;overflow:hidden"><span class="t" style="left:12.5px;top:3px;font-size:16px;color:#33333b;letter-spacing:0.05px">17:00</span></div>
<span id="t39" class="t" style="top:671px;font-size:21.5px;color:#2b2b33;letter-spacing:0.021px;left:48.02px;">Source</span>
<span id="t40" class="t" style="top:670px;font-size:22px;color:#8b8b8b;letter-spacing:0.396px;left:166.30px;">Destination</span>
<div style="left:24px;top:708px;width:386px;height:2px;background:#e0e0e3"></div>
<div style="left:48px;top:702px;width:70px;height:6px;background:#3a99d0"></div>
<svg style="left:372px;top:664px" width="32" height="32" viewBox="372 664 32 32" ><g transform="translate(387.9 679.8) rotate(45)" fill="#8e8e90"><rect x="-3.5" y="-13.4" width="7" height="4.9" rx="1.3"/><rect x="-3.5" y="-7.2" width="7" height="13.4"/><path d="M-3.5 6.2 H3.5 L0 14.4Z"/><rect x="-0.7" y="-7.2" width="1.4" height="11.6" fill="#fff" fill-opacity="0.85"/><path d="M-2.1 6.2 A2.1 2.3 0 0 0 2.1 6.2Z" fill="#fff"/></g></svg>
<div style="left:24px;top:723px;width:386px;height:44px;border:2px solid #dfdfe2;border-radius:5px;box-sizing:border-box;background:#fff"></div>
<svg style="left:30px;top:726px" width="36" height="38" viewBox="30 726 36 38" ><circle cx="45.0" cy="742.6" r="7.6" fill="none" stroke="#a9a9ad" stroke-width="3"/><path d="M50.6 748.6 L56.0 753.8" stroke="#a9a9ad" stroke-width="3.6" stroke-linecap="round"/></svg>
<span id="t41" class="t" style="top:734px;font-size:21px;color:#b3b3b7;letter-spacing:0.117px;left:69.35px;">Search facets</span>
<div style="left:24px;top:780px;width:386px;height:37.6px;background:#e9e9ec;border-radius:3px"></div>
<svg style="left:36px;top:790px" width="24" height="20" viewBox="36 790 24 20" ><path d="M40.6 796.2 L47 802.8 L53.4 796.2" fill="none" stroke="#55555c" stroke-width="2"/></svg>
<span id="t42" class="t" style="top:791px;font-size:18px;color:#55555c;left:64.35px;transform:scaleX(0.9156);transform-origin:left center;">MEASURES</span>
<svg style="left:36px;top:844px" width="26" height="20" viewBox="36 844 26 20" ><path d="M40.4 849.2 L48.2 857.2 L56 849.2" fill="none" stroke="#55555c" stroke-width="2.1"/></svg>
<span id="t43" class="t" style="top:844px;font-size:22px;color:#2b2b33;font-weight:700;letter-spacing:-0.102px;left:67.73px;">Network Bytes Received</span>
<span id="t44" class="t" style="top:903px;font-size:21px;color:#55555c;letter-spacing:1.121px;left:36.58px;">Min</span>
<div style="left:84.5px;top:895.6px;width:111px;height:36px;border:2px solid #dedee1;border-radius:4px;box-sizing:border-box;background:#fff"></div>
<span id="t45" class="t" style="top:905px;font-size:19.5px;color:#b8b8bc;letter-spacing:1.377px;right:2350.40px;">0b</span>
<span id="t46" class="t" style="top:904px;font-size:20.6px;color:#55555c;letter-spacing:0.152px;left:235.11px;">Max</span>
<div style="left:286.4px;top:895.6px;width:111px;height:36px;border:2px solid #dedee1;border-radius:4px;box-sizing:border-box;background:#fff"></div>
<span id="t47" class="t" style="top:905px;font-size:19.5px;color:#b8b8bc;letter-spacing:-0.143px;right:2148.91px;">2.4GiB</span>
<div style="left:36px;top:959.7px;width:361px;height:3px;background:#3a99d0"></div>
<div style="left:24.099999999999998px;top:949.4000000000001px;width:23.6px;height:23.6px;background:#3a99d0;border-radius:50%"></div>
<div style="left:385.09999999999997px;top:949.4000000000001px;width:23.6px;height:23.6px;background:#3a99d0;border-radius:50%"></div>
<div style="left:24px;top:999.8px;width:386px;height:2px;background:#e0e0e3"></div>
<svg style="left:36px;top:1020px" width="26" height="20" viewBox="36 1020 26 20" ><path d="M40.4 1025.2 L48.2 1033.2 L56 1025.2" fill="none" stroke="#55555c" stroke-width="2.1"/></svg>
<span id="t48" class="t" style="top:1020px;font-size:22px;color:#2b2b33;font-weight:700;letter-spacing:-0.034px;left:67.73px;">Network Bytes Sent</span>
<span id="t49" class="t" style="top:1079px;font-size:21px;color:#55555c;letter-spacing:1.121px;left:36.58px;">Min</span>
<div style="left:84.5px;top:1073.0px;width:111px;height:36px;border:2px solid #dedee1;border-radius:4px;box-sizing:border-box;background:#fff"></div>
<span id="t50" class="t" style="top:1081px;font-size:19.5px;color:#b8b8bc;letter-spacing:1.377px;right:2350.40px;">0b</span>
<span id="t51" class="t" style="top:1080px;font-size:20.6px;color:#55555c;letter-spacing:0.152px;left:235.11px;">Max</span>
<div style="left:286.4px;top:1073.0px;width:111px;height:36px;border:2px solid #dedee1;border-radius:4px;box-sizing:border-box;background:#fff"></div>
<span id="t52" class="t" style="top:1081px;font-size:19.5px;color:#b8b8bc;letter-spacing:-0.143px;right:2148.91px;">15.8GiB</span>
<div style="left:36px;top:1137.4px;width:361px;height:3px;background:#3a99d0"></div>
<div style="left:24.099999999999998px;top:1127.1000000000001px;width:23.6px;height:23.6px;background:#3a99d0;border-radius:50%"></div>
<div style="left:385.09999999999997px;top:1127.1000000000001px;width:23.6px;height:23.6px;background:#3a99d0;border-radius:50%"></div>
<div style="left:24px;top:1176.0px;width:386px;height:2px;background:#e0e0e3"></div>
<svg style="left:36px;top:1196px" width="26" height="20" viewBox="36 1196 26 20" ><path d="M40.4 1201.4 L48.2 1209.4 L56 1201.4" fill="none" stroke="#55555c" stroke-width="2.1"/></svg>
<span id="t53" class="t" style="top:1197px;font-size:22px;color:#2b2b33;font-weight:700;letter-spacing:0.228px;left:67.73px;">Network Retransmits</span>
<span id="t54" class="t" style="top:1255px;font-size:21px;color:#55555c;letter-spacing:1.121px;left:36.58px;">Min</span>
<div style="left:84.5px;top:1249.0px;width:111px;height:36px;border:2px solid #dedee1;border-radius:4px;box-sizing:border-box;background:#fff"></div>
<span id="t55" class="t" style="top:1257px;font-size:19.5px;color:#b8b8bc;right:2351.84px;">0</span>
<span id="t56" class="t" style="top:1256px;font-size:20.6px;color:#55555c;letter-spacing:0.152px;left:235.11px;">Max</span>
<div style="left:286.4px;top:1249.0px;width:111px;height:36px;border:2px solid #dedee1;border-radius:4px;box-sizing:border-box;background:#fff"></div>
<span id="t57" class="t" style="top:1257px;font-size:19.5px;color:#b8b8bc;letter-spacing:-0.115px;right:2149.15px;">1520</span>
<div style="left:36px;top:1313.6px;width:361px;height:3px;background:#3a99d0"></div>
<div style="left:24.099999999999998px;top:1303.3px;width:23.6px;height:23.6px;background:#3a99d0;border-radius:50%"></div>
<div style="left:385.09999999999997px;top:1303.3px;width:23.6px;height:23.6px;background:#3a99d0;border-radius:50%"></div>
<div style="left:24px;top:1354.3px;width:386px;height:2px;background:#e0e0e3"></div>
<svg style="left:466px;top:674px" width="26" height="26" viewBox="466 674 26 26" ><defs><clipPath id="chc"><rect x="469.2" y="677.2" width="6.6" height="19.6"/></clipPath></defs><rect x="468.9" y="676.9" width="20.1" height="20.2" rx="2.8" fill="#fff" stroke="#3d94c9" stroke-width="1.7"/><rect x="469.2" y="677.2" width="6.6" height="19.6" fill="#d9edf9"/><g clip-path="url(#chc)"><path d="M456.5 697 L477.5 676" stroke="#3d94c9" stroke-width="0.8" stroke-opacity="0.8"/><path d="M459.7 697 L480.7 676" stroke="#3d94c9" stroke-width="0.8" stroke-opacity="0.8"/><path d="M462.9 697 L483.9 676" stroke="#3d94c9" stroke-width="0.8" stroke-opacity="0.8"/><path d="M466.1 697 L487.1 676" stroke="#3d94c9" stroke-width="0.8" stroke-opacity="0.8"/><path d="M469.3 697 L490.3 676" stroke="#3d94c9" stroke-width="0.8" stroke-opacity="0.8"/><path d="M472.5 697 L493.5 676" stroke="#3d94c9" stroke-width="0.8" stroke-opacity="0.8"/></g><path d="M484.4 682.6 L479.7 686.8 L484.4 691" fill="none" stroke="#3d94c9" stroke-width="1.8"/></svg>
<span id="t58" class="t" style="top:678px;font-size:22px;color:#3a8fc6;letter-spacing:-0.057px;left:501.30px;">Hide Controls</span>
<span id="t59" class="t" style="top:735px;font-size:21.5px;color:#2b2b33;font-weight:700;letter-spacing:0.016px;left:448.71px;">32 flows found</span>
<div style="left:1706px;top:724.5px;width:443.5px;height:39.2px;background:#f2f2f4;border-radius:4px"></div>
<svg style="left:1716px;top:730px" width="30" height="30" viewBox="1716 730 30 30" ><circle cx="1730.6" cy="744.8" r="9.4" fill="none" stroke="#33333b" stroke-width="2.5"/><path d="M1730.9 738.6 V745.4 H1725.6" fill="none" stroke="#33333b" stroke-width="2.3"/></svg>
<span id="t60" class="t" style="top:735px;font-size:21.5px;color:#33333b;letter-spacing:0.368px;left:1749.74px;">Last updated:</span>
<span id="t61" class="t" style="top:734px;font-size:21px;color:#2b2b33;font-weight:700;letter-spacing:0.245px;left:1888.50px;">Mon, Nov 11, 7:01:43 pm</span>
<div style="left:2164px;top:730.4px;width:50px;height:27px;background:#b9b6bc;border-radius:14px"></div>
<div style="left:2167.6px;top:733px;width:22.4px;height:22.4px;background:#fff;border-radius:50%"></div>
<span id="t62" class="t" style="top:735px;font-size:20px;color:#33333b;letter-spacing:-0.050px;left:2224.69px;">Show Unresolved Flows</span>
<svg style="left:2470px;top:730px" width="30" height="30" viewBox="2470 730 30 30" ><path d="M2483.21 736.88 L2483.54 733.70 L2486.46 733.70 L2486.79 736.88 L2489.19 737.88 L2491.67 735.86 L2493.74 737.93 L2491.72 740.41 L2492.72 742.81 L2495.90 743.14 L2495.90 746.06 L2492.72 746.39 L2491.72 748.79 L2493.74 751.27 L2491.67 753.34 L2489.19 751.32 L2486.79 752.32 L2486.46 755.50 L2483.54 755.50 L2483.21 752.32 L2480.81 751.32 L2478.33 753.34 L2476.26 751.27 L2478.28 748.79 L2477.28 746.39 L2474.10 746.06 L2474.10 743.14 L2477.28 742.81 L2478.28 740.41 L2476.26 737.93 L2478.33 735.86 L2480.81 737.88Z M2480.93 744.60 a4.07 4.07 0 1 0 8.14 0 a4.07 4.07 0 1 0 -8.14 0Z" fill="#908e94" fill-rule="evenodd" stroke="#908e94" stroke-width="1.1" stroke-linejoin="round"/></svg>
<div style="left:448px;top:780px;width:2060px;height:600px;border:2px solid #dddddf;border-radius:5px;box-sizing:border-box;background:#fff"></div>
<div style="left:1423.6px;top:782px;width:2px;height:580px;background:#dddddf"></div>
<div style="left:1856px;top:782px;width:2px;height:580px;background:#dddddf"></div>
<div style="left:2288.2px;top:782px;width:2px;height:580px;background:#dddddf"></div>
<div style="left:1424px;top:824px;width:865px;height:2px;background:#dddddf"></div>
<div style="left:449px;top:870px;width:2058px;height:2px;background:#dddddf"></div>
<div style="left:449px;top:917.7px;width:2058px;height:2px;background:#dddddf"></div>
<div style="left:449px;top:968.0px;width:2058px;height:2px;background:#dddddf"></div>
<div style="left:449px;top:1016.0px;width:2058px;height:2px;background:#dddddf"></div>
<div style="left:449px;top:1063.9px;width:2058px;height:2px;background:#dddddf"></div>
<div style="left:449px;top:1111.9px;width:2058px;height:2px;background:#dddddf"></div>
<div style="left:449px;top:1160.0px;width:2058px;height:2px;background:#dddddf"></div>
<div style="left:449px;top:1208.3px;width:2058px;height:2px;background:#dddddf"></div>
<div style="left:449px;top:1257.7px;width:2058px;height:2px;background:#dddddf"></div>
<div style="left:449px;top:1305.6px;width:2058px;height:2px;background:#dddddf"></div>
<div style="left:449px;top:1353.5px;width:2058px;height:2px;background:#dddddf"></div>
<div style="left:1606px;top:789.6px;width:3.4px;height:28px;background:#7a44ac"></div>
<span id="t63" class="t" style="top:794px;font-size:20px;color:#9b9ba1;left:1623.13px;transform:scaleX(0.9562);transform-origin:left center;">SENT</span>
<div style="left:2016px;top:789.6px;width:3.4px;height:28px;background:#f5a623"></div>
<span id="t64" class="t" style="top:794px;font-size:20px;color:#9b9ba1;left:2032.34px;transform:scaleX(0.9523);transform-origin:left center;">RECEIVED</span>
<span id="t65" class="t" style="top:838px;font-size:19.5px;color:#34343c;font-weight:700;left:458.09px;transform:scaleX(0.9158);transform-origin:left center;">SOURCE</span>
<span id="t66" class="t" style="top:838px;font-size:19.5px;color:#34343c;font-weight:700;letter-spacing:0.188px;left:944.70px;">DESTINATION</span>
<span id="t67" class="t" style="top:838px;font-size:19.5px;color:#34343c;font-weight:700;letter-spacing:-0.365px;left:1526.17px;">VOLUME</span>
<svg style="left:1612px;top:836px" width="22" height="24" viewBox="1612 836 22 24" ><path d="M1622.7 840 V853.2 M1617.2 848.2 L1622.7 853.8 L1628.2 848.2" fill="none" stroke="#34343c" stroke-width="2.1"/></svg>
<span id="t68" class="t" style="top:838px;font-size:19.5px;color:#34343c;font-weight:700;letter-spacing:-0.417px;left:1713.38px;">THROUGHPUT</span>
<span id="t69" class="t" style="top:838px;font-size:19.5px;color:#34343c;font-weight:700;letter-spacing:-0.205px;left:1983.57px;">VOLUME</span>
<span id="t70" class="t" style="top:838px;font-size:19.5px;color:#34343c;font-weight:700;letter-spacing:-0.306px;left:2145.58px;">THROUGHPUT</span>
<span id="t71" class="t" style="top:838px;font-size:19.5px;color:#34343c;font-weight:700;left:2363.65px;transform:scaleX(0.9620);transform-origin:left center;">RETRANSMITS</span>
<span id="t72" class="t" style="top:887px;font-size:20.5px;color:#33333b;letter-spacing:0.474px;left:475.77px;">us-west1-a</span>
<span id="t73" class="t" style="top:887px;font-size:20.5px;color:#33333b;letter-spacing:0.474px;left:962.77px;">us-west1-a</span>
<span id="t74" class="t" style="top:889px;font-size:18px;color:#8f8f95;font-weight:700;right:907.85px;transform:scaleX(0.9157);transform-origin:right center;">GB</span>
<span id="t75" class="t" style="top:885px;font-size:23.6px;color:#2b2b33;font-weight:700;right:939.75px;">4.83</span>
<span id="t76" class="t" style="top:889px;font-size:18.4px;color:#8f8f95;font-weight:700;letter-spacing:0.977px;right:691.77px;">MB/s</span>
<span id="t77" class="t" style="top:885px;font-size:23.6px;color:#2b2b33;font-weight:700;right:746.97px;">1.34</span>
<span id="t78" class="t" style="top:889px;font-size:18px;color:#8f8f95;font-weight:700;right:475.05px;transform:scaleX(0.9157);transform-origin:right center;">GB</span>
<span id="t79" class="t" style="top:885px;font-size:23.6px;color:#2b2b33;font-weight:700;right:507.14px;">4.55</span>
<span id="t80" class="t" style="top:889px;font-size:18.4px;color:#8f8f95;font-weight:700;letter-spacing:0.977px;right:258.97px;">MB/s</span>
<span id="t81" class="t" style="top:885px;font-size:23.6px;color:#2b2b33;font-weight:700;right:313.45px;">1.26</span>
<span id="t82" class="t" style="top:885px;font-size:23.6px;color:#2b2b33;font-weight:700;right:49.74px;">31</span>
<span id="t83" class="t" style="top:935px;font-size:20.5px;color:#33333b;letter-spacing:0.395px;left:475.77px;">us-east4-c</span>
<span id="t84" class="t" style="top:935px;font-size:20.5px;color:#33333b;letter-spacing:0.395px;left:962.77px;">us-east4-c</span>
<span id="t85" class="t" style="top:938px;font-size:18px;color:#8f8f95;font-weight:700;right:907.85px;transform:scaleX(0.9157);transform-origin:right center;">GB</span>
<span id="t86" class="t" style="top:934px;font-size:23.6px;color:#2b2b33;font-weight:700;right:940.47px;">4.24</span>
<span id="t87" class="t" style="top:938px;font-size:18.4px;color:#8f8f95;font-weight:700;letter-spacing:0.977px;right:691.77px;">MB/s</span>
<span id="t88" class="t" style="top:934px;font-size:23.6px;color:#2b2b33;font-weight:700;right:746.37px;">1.18</span>
<span id="t89" class="t" style="top:938px;font-size:18px;color:#8f8f95;font-weight:700;right:475.05px;transform:scaleX(0.9157);transform-origin:right center;">GB</span>
<span id="t90" class="t" style="top:934px;font-size:23.6px;color:#2b2b33;font-weight:700;right:507.14px;">3.61</span>
<span id="t91" class="t" style="top:938px;font-size:18.4px;color:#8f8f95;font-weight:700;letter-spacing:0.977px;right:258.97px;">MB/s</span>
<span id="t92" class="t" style="top:934px;font-size:23.6px;color:#2b2b33;font-weight:700;right:313.33px;">1.00</span>
<span id="t93" class="t" style="top:934px;font-size:23.6px;color:#2b2b33;font-weight:700;right:49.74px;">11</span>
<span id="t94" class="t" style="top:983px;font-size:20.5px;color:#33333b;letter-spacing:0.395px;left:475.77px;">us-east-1c</span>
<span id="t95" class="t" style="top:983px;font-size:20.5px;color:#33333b;letter-spacing:0.395px;left:962.77px;">us-east-1c</span>
<span id="t96" class="t" style="top:987px;font-size:18px;color:#8f8f95;font-weight:700;right:907.85px;transform:scaleX(0.9157);transform-origin:right center;">GB</span>
<span id="t97" class="t" style="top:983px;font-size:23.6px;color:#2b2b33;font-weight:700;right:939.56px;">4.17</span>
<span id="t98" class="t" style="top:987px;font-size:18.4px;color:#8f8f95;font-weight:700;letter-spacing:0.977px;right:691.77px;">MB/s</span>
<span id="t99" class="t" style="top:983px;font-size:23.6px;color:#2b2b33;font-weight:700;right:746.25px;">1.16</span>
<span id="t100" class="t" style="top:987px;font-size:18px;color:#8f8f95;font-weight:700;right:475.05px;transform:scaleX(0.9157);transform-origin:right center;">GB</span>
<span id="t101" class="t" style="top:983px;font-size:23.6px;color:#2b2b33;font-weight:700;right:506.95px;">3.73</span>
<span id="t102" class="t" style="top:987px;font-size:18.4px;color:#8f8f95;font-weight:700;letter-spacing:0.977px;right:258.97px;">MB/s</span>
<span id="t103" class="t" style="top:983px;font-size:23.6px;color:#2b2b33;font-weight:700;right:314.17px;">1.04</span>
<span id="t104" class="t" style="top:983px;font-size:23.6px;color:#2b2b33;font-weight:700;right:49.74px;">1</span>
<span id="t105" class="t" style="top:1031px;font-size:20.5px;color:#33333b;letter-spacing:0.395px;left:475.77px;">us-east-1c</span>
<span id="t106" class="t" style="top:1031px;font-size:20.5px;color:#33333b;letter-spacing:0.637px;left:962.77px;">us-east-1b</span>
<span id="t107" class="t" style="top:1034px;font-size:18px;color:#8f8f95;font-weight:700;right:907.85px;transform:scaleX(0.9157);transform-origin:right center;">GB</span>
<span id="t108" class="t" style="top:1030px;font-size:23.6px;color:#2b2b33;font-weight:700;right:939.94px;">4.05</span>
<span id="t109" class="t" style="top:1034px;font-size:18.4px;color:#8f8f95;font-weight:700;letter-spacing:0.977px;right:691.77px;">MB/s</span>
<span id="t110" class="t" style="top:1030px;font-size:23.6px;color:#2b2b33;font-weight:700;right:746.16px;">1.12</span>
<span id="t111" class="t" style="top:1034px;font-size:18px;color:#8f8f95;font-weight:700;letter-spacing:0.921px;right:474.06px;">MB</span>
<span id="t112" class="t" style="top:1030px;font-size:23.6px;color:#2b2b33;font-weight:700;right:510.43px;">280</span>
<span id="t113" class="t" style="top:1034px;font-size:18px;color:#8f8f95;font-weight:700;letter-spacing:0.042px;right:259.92px;">KB/s</span>
<span id="t114" class="t" style="top:1030px;font-size:23.6px;color:#2b2b33;font-weight:700;right:307.72px;">77.9</span>
<span id="t115" class="t" style="top:1030px;font-size:23.6px;color:#2b2b33;font-weight:700;right:48.43px;">0</span>
<span id="t116" class="t" style="top:1080px;font-size:20.5px;color:#33333b;letter-spacing:0.395px;left:475.77px;">us-east4-c</span>
<span id="t117" class="t" style="top:1080px;font-size:20.5px;color:#33333b;letter-spacing:0.408px;left:962.77px;">us-east4-a</span>
<span id="t118" class="t" style="top:1082px;font-size:18px;color:#8f8f95;font-weight:700;right:907.85px;transform:scaleX(0.9157);transform-origin:right center;">GB</span>
<span id="t119" class="t" style="top:1078px;font-size:23.6px;color:#2b2b33;font-weight:700;right:939.75px;">3.86</span>
<span id="t120" class="t" style="top:1082px;font-size:18.4px;color:#8f8f95;font-weight:700;letter-spacing:0.977px;right:691.77px;">MB/s</span>
<span id="t121" class="t" style="top:1078px;font-size:23.6px;color:#2b2b33;font-weight:700;right:746.06px;">1.07</span>
<span id="t122" class="t" style="top:1082px;font-size:18px;color:#8f8f95;font-weight:700;letter-spacing:0.921px;right:474.06px;">MB</span>
<span id="t123" class="t" style="top:1078px;font-size:23.6px;color:#2b2b33;font-weight:700;right:510.43px;">290</span>
<span id="t124" class="t" style="top:1082px;font-size:18px;color:#8f8f95;font-weight:700;letter-spacing:0.042px;right:259.92px;">KB/s</span>
<span id="t125" class="t" style="top:1078px;font-size:23.6px;color:#2b2b33;font-weight:700;right:307.94px;">80.5</span>
<span id="t126" class="t" style="top:1078px;font-size:23.6px;color:#2b2b33;font-weight:700;right:48.43px;">0</span>
<span id="t127" class="t" style="top:1128px;font-size:20.5px;color:#33333b;letter-spacing:0.474px;left:475.77px;">us-west-2a</span>
<span id="t128" class="t" style="top:1128px;font-size:20.5px;color:#33333b;letter-spacing:0.474px;left:962.77px;">us-west-2a</span>
<span id="t129" class="t" style="top:1130px;font-size:18px;color:#8f8f95;font-weight:700;right:907.85px;transform:scaleX(0.9157);transform-origin:right center;">GB</span>
<span id="t130" class="t" style="top:1126px;font-size:23.6px;color:#2b2b33;font-weight:700;right:939.75px;">3.86</span>
<span id="t131" class="t" style="top:1130px;font-size:18.4px;color:#8f8f95;font-weight:700;letter-spacing:0.977px;right:691.77px;">MB/s</span>
<span id="t132" class="t" style="top:1126px;font-size:23.6px;color:#2b2b33;font-weight:700;right:746.06px;">1.07</span>
<span id="t133" class="t" style="top:1130px;font-size:18px;color:#8f8f95;font-weight:700;right:475.05px;transform:scaleX(0.9157);transform-origin:right center;">GB</span>
<span id="t134" class="t" style="top:1126px;font-size:23.6px;color:#2b2b33;font-weight:700;right:506.95px;">3.56</span>
<span id="t135" class="t" style="top:1130px;font-size:18px;color:#8f8f95;font-weight:700;letter-spacing:0.042px;right:259.92px;">KB/s</span>
<span id="t136" class="t" style="top:1126px;font-size:23.6px;color:#2b2b33;font-weight:700;right:307.87px;">988</span>
<span id="t137" class="t" style="top:1126px;font-size:23.6px;color:#2b2b33;font-weight:700;right:48.43px;">0</span>
<span id="t138" class="t" style="top:1176px;font-size:20.5px;color:#33333b;letter-spacing:0.474px;left:475.77px;">us-west-2a</span>
<span id="t139" class="t" style="top:1176px;font-size:20.5px;color:#33333b;letter-spacing:0.462px;left:962.77px;">us-west-2c</span>
<span id="t140" class="t" style="top:1179px;font-size:18px;color:#8f8f95;font-weight:700;right:907.85px;transform:scaleX(0.9157);transform-origin:right center;">GB</span>
<span id="t141" class="t" style="top:1175px;font-size:23.6px;color:#2b2b33;font-weight:700;right:939.63px;">3.80</span>
<span id="t142" class="t" style="top:1179px;font-size:18.4px;color:#8f8f95;font-weight:700;letter-spacing:0.977px;right:691.77px;">MB/s</span>
<span id="t143" class="t" style="top:1175px;font-size:23.6px;color:#2b2b33;font-weight:700;right:746.25px;">1.06</span>
<span id="t144" class="t" style="top:1179px;font-size:18px;color:#8f8f95;font-weight:700;letter-spacing:0.921px;right:474.06px;">MB</span>
<span id="t145" class="t" style="top:1175px;font-size:23.6px;color:#2b2b33;font-weight:700;right:510.67px;">188</span>
<span id="t146" class="t" style="top:1179px;font-size:18px;color:#8f8f95;font-weight:700;letter-spacing:0.042px;right:259.92px;">KB/s</span>
<span id="t147" class="t" style="top:1175px;font-size:23.6px;color:#2b2b33;font-weight:700;right:307.75px;">52.3</span>
<span id="t148" class="t" style="top:1175px;font-size:23.6px;color:#2b2b33;font-weight:700;right:48.43px;">0</span>
<span id="t149" class="t" style="top:1224px;font-size:20.5px;color:#33333b;letter-spacing:0.395px;left:475.77px;">us-east4-c</span>
<span id="t150" class="t" style="top:1224px;font-size:20.5px;color:#33333b;letter-spacing:0.637px;left:962.77px;">us-east4-b</span>
<span id="t151" class="t" style="top:1229px;font-size:18px;color:#8f8f95;font-weight:700;right:907.85px;transform:scaleX(0.9157);transform-origin:right center;">GB</span>
<span id="t152" class="t" style="top:1225px;font-size:23.6px;color:#2b2b33;font-weight:700;right:939.72px;">3.49</span>
<span id="t153" class="t" style="top:1229px;font-size:18px;color:#8f8f95;font-weight:700;letter-spacing:0.042px;right:692.72px;">KB/s</span>
<span id="t154" class="t" style="top:1225px;font-size:23.6px;color:#2b2b33;font-weight:700;right:740.43px;">970</span>
<span id="t155" class="t" style="top:1229px;font-size:18px;color:#8f8f95;font-weight:700;letter-spacing:0.921px;right:474.06px;">MB</span>
<span id="t156" class="t" style="top:1225px;font-size:23.6px;color:#2b2b33;font-weight:700;right:510.43px;">190</span>
<span id="t157" class="t" style="top:1229px;font-size:18px;color:#8f8f95;font-weight:700;letter-spacing:0.042px;right:259.92px;">KB/s</span>
<span id="t158" class="t" style="top:1225px;font-size:23.6px;color:#2b2b33;font-weight:700;right:307.87px;">52.8</span>
<span id="t159" class="t" style="top:1225px;font-size:23.6px;color:#2b2b33;font-weight:700;right:49.43px;">10</span>
<span id="t160" class="t" style="top:1272px;font-size:20.5px;color:#33333b;letter-spacing:0.474px;left:475.77px;">us-west1-a</span>
<span id="t161" class="t" style="top:1272px;font-size:20.5px;color:#33333b;letter-spacing:0.462px;left:962.77px;">us-west1-c</span>
<span id="t162" class="t" style="top:1276px;font-size:18px;color:#8f8f95;font-weight:700;right:907.85px;transform:scaleX(0.9157);transform-origin:right center;">GB</span>
<span id="t163" class="t" style="top:1272px;font-size:23.6px;color:#2b2b33;font-weight:700;right:939.94px;">3.35</span>
<span id="t164" class="t" style="top:1276px;font-size:18px;color:#8f8f95;font-weight:700;letter-spacing:0.042px;right:692.72px;">KB/s</span>
<span id="t165" class="t" style="top:1272px;font-size:23.6px;color:#2b2b33;font-weight:700;right:740.46px;">932</span>
<span id="t166" class="t" style="top:1276px;font-size:18px;color:#8f8f95;font-weight:700;letter-spacing:0.921px;right:474.06px;">MB</span>
<span id="t167" class="t" style="top:1272px;font-size:23.6px;color:#2b2b33;font-weight:700;right:510.67px;">178</span>
<span id="t168" class="t" style="top:1276px;font-size:18px;color:#8f8f95;font-weight:700;letter-spacing:0.042px;right:259.92px;">KB/s</span>
<span id="t169" class="t" style="top:1272px;font-size:23.6px;color:#2b2b33;font-weight:700;right:307.94px;">49.5</span>
<span id="t170" class="t" style="top:1272px;font-size:23.6px;color:#2b2b33;font-weight:700;right:48.43px;">0</span>
<span id="t171" class="t" style="top:1322px;font-size:20.5px;color:#33333b;letter-spacing:0.474px;left:475.77px;">us-west-2a</span>
<span id="t172" class="t" style="top:1322px;font-size:20.5px;color:#33333b;letter-spacing:0.703px;left:962.77px;">us-west-2b</span>
<span id="t173" class="t" style="top:1324px;font-size:18px;color:#8f8f95;font-weight:700;right:907.85px;transform:scaleX(0.9157);transform-origin:right center;">GB</span>
<span id="t174" class="t" style="top:1320px;font-size:23.6px;color:#2b2b33;font-weight:700;right:939.94px;">3.21</span>
<span id="t175" class="t" style="top:1324px;font-size:18px;color:#8f8f95;font-weight:700;letter-spacing:0.042px;right:692.72px;">KB/s</span>
<span id="t176" class="t" style="top:1320px;font-size:23.6px;color:#2b2b33;font-weight:700;right:740.46px;">892</span>
<span id="t177" class="t" style="top:1324px;font-size:18px;color:#8f8f95;font-weight:700;letter-spacing:0.921px;right:474.06px;">MB</span>
<span id="t178" class="t" style="top:1320px;font-size:23.6px;color:#2b2b33;font-weight:700;right:510.74px;">165</span>
<span id="t179" class="t" style="top:1324px;font-size:18px;color:#8f8f95;font-weight:700;letter-spacing:0.042px;right:259.92px;">KB/s</span>
<span id="t180" class="t" style="top:1320px;font-size:23.6px;color:#2b2b33;font-weight:700;right:307.87px;">45.8</span>
<span id="t181" class="t" style="top:1320px;font-size:23.6px;color:#2b2b33;font-weight:700;right:48.43px;">0</span>
</div></body></html>
